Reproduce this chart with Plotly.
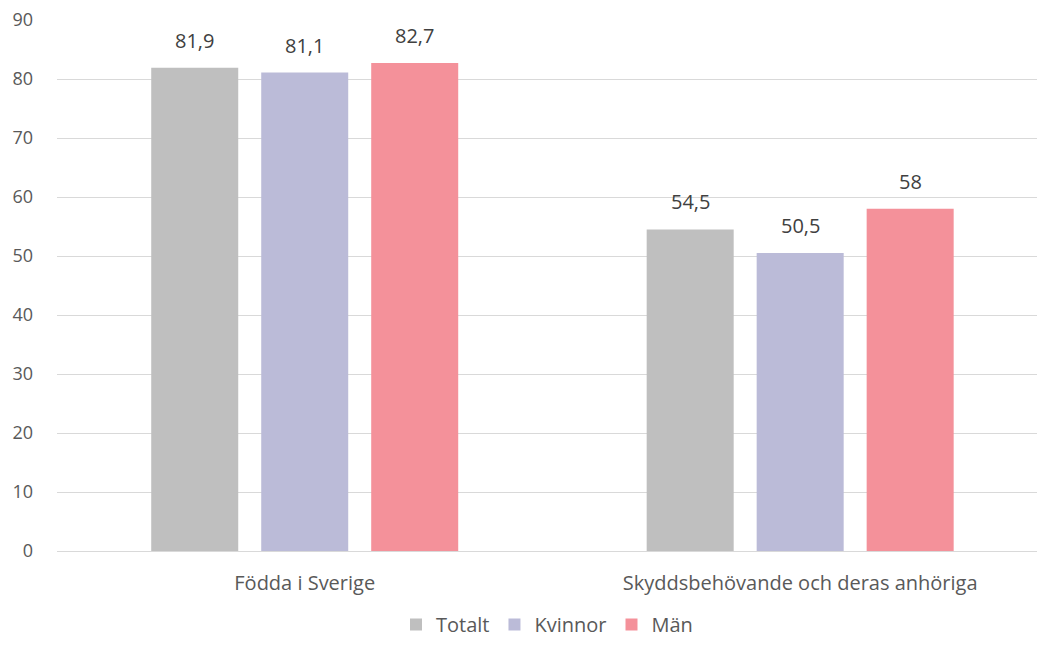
import plotly.graph_objects as go

categories = ["Födda i Sverige", "Skyddsbehövande och deras anhöriga"]
series_names = ["Totalt", "Kvinnor", "Män"]
totalt = [81.9, 54.5]
kvinnor = [81.1, 50.5]
man = [82.7, 58]
colors = ["#BFBFBF", "#BBBBD8", "#F4919A"]

W, H = 1037, 645
ML, MR, MT, MB = 57, 0, 20, 94
X_RANGE = [-0.5, 1.478]   # plot area runs past the right edge in the reference
BARGAP = 0.334
BARGROUPGAP = 0.209

def fmt(v):
    return ("%g" % v).replace(".", ",")

fig = go.Figure()
all_vals = [totalt, kvinnor, man]
for name, vals, col in zip(series_names, all_vals, colors):
    fig.add_trace(go.Bar(name=name, x=categories, y=vals, marker_color=col,
                         marker_line_width=0))

# data labels as annotations positioned above each grouped bar
plot_w = W - ML - MR
plot_h = H - MT - MB
px_per_cat = plot_w / (X_RANGE[1] - X_RANGE[0])
n = len(series_names)
slot = px_per_cat * (1 - BARGAP) / n
for i, vals in enumerate(all_vals):
    shift = (i - (n - 1) / 2) * slot
    for c, v in zip(categories, vals):
        fig.add_annotation(x=c, y=v, text=fmt(v), showarrow=False,
                           xshift=shift, yshift=12, yanchor="bottom",
                           font=dict(size=20, color="#404040"))

fig.update_layout(
    width=W, height=H,
    margin=dict(l=ML, r=MR, t=MT, b=MB, autoexpand=False),
    plot_bgcolor="white", paper_bgcolor="white",
    barmode="group", bargap=BARGAP, bargroupgap=BARGROUPGAP,
    font=dict(family="Open Sans, Liberation Sans, sans-serif", size=20, color="#595959"),
    legend=dict(orientation="h", x=0.5, xanchor="center",
                y=-(MB - 1) / plot_h, yanchor="bottom",
                font=dict(size=20, color="#595959"), traceorder="normal",
                itemwidth=30),
    xaxis=dict(range=X_RANGE, showline=True, linecolor="#D9D9D9", linewidth=1,
               ticks="", automargin=False, ticklabelstandoff=14,
               tickfont=dict(size=20, color="#595959")),
    yaxis=dict(range=[0, 90], dtick=10, showgrid=True, gridcolor="#D9D9D9",
               gridwidth=1, zeroline=False, ticks="", automargin=False,
               ticklabelstandoff=23,
               tickfont=dict(size=18, color="#595959")),
)
fig.write_html("out.html", config={"displayModeBar": False})
with open("out.html", encoding="utf-8") as f:
    html = f.read()
html = html.replace("<head>", "<head><style>html,body{margin:0;padding:0;overflow:hidden;}</style>", 1)
with open("out.html", "w", encoding="utf-8") as f:
    f.write(html)
